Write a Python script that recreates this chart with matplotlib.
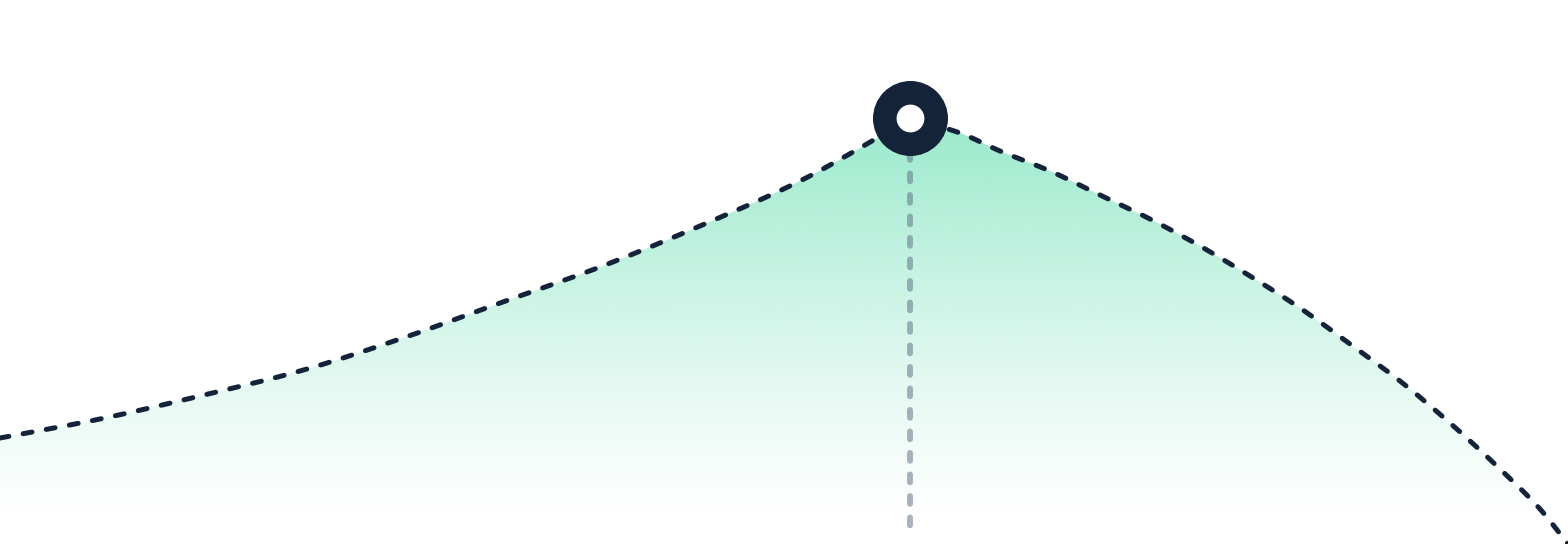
import numpy as np
import matplotlib
matplotlib.use('Agg')
import matplotlib.pyplot as plt
from matplotlib.colors import to_rgb

x_left = [0, 100, 200, 300, 400, 500, 600, 700, 800, 860, 910]
v_left = [106, 125, 148, 173, 205, 241, 277, 318, 363, 396, 426]
x_right = [910, 960, 1000, 1050, 1100, 1150, 1200, 1250, 1300, 1350, 1400, 1450, 1500, 1540, 1568]
v_right = [426, 411, 393, 373, 349, 325, 298, 268, 236, 200, 163, 121, 75, 35, 0]
peak_x, peak_v = 910, 426

W, H = 1568, 544
line_col = '#15233a'
fill_col = '#34d399'


def monotone(xs, ys, n=200):
    # monotone cubic (Fritsch-Carlson) for a smooth line through the points
    xs = np.asarray(xs, float)
    ys = np.asarray(ys, float)
    h = np.diff(xs)
    d = np.diff(ys) / h
    m = np.zeros_like(ys)
    m[0], m[-1] = d[0], d[-1]
    for i in range(1, len(xs) - 1):
        if d[i - 1] * d[i] <= 0:
            m[i] = 0
        else:
            w1 = 2 * h[i] + h[i - 1]
            w2 = h[i] + 2 * h[i - 1]
            m[i] = (w1 + w2) / (w1 / d[i - 1] + w2 / d[i])
    xx = np.linspace(xs[0], xs[-1], n)
    k = np.clip(np.searchsorted(xs, xx) - 1, 0, len(xs) - 2)
    t = (xx - xs[k]) / h[k]
    h00 = 2 * t**3 - 3 * t**2 + 1
    h10 = t**3 - 2 * t**2 + t
    h01 = -2 * t**3 + 3 * t**2
    h11 = t**3 - t**2
    yy = h00 * ys[k] + h10 * h[k] * m[k] + h01 * ys[k + 1] + h11 * h[k] * m[k + 1]
    return xx, yy


xl, yl = monotone(x_left, v_left)
xr, yr = monotone(x_right, v_right)
xs = np.concatenate([xl, xr[1:]])
ys = np.concatenate([yl, yr[1:]])

fig = plt.figure(figsize=(W / 100, H / 100), dpi=100)
ax = fig.add_axes([0, 0, 1, 1])
ax.set_xlim(0, W)
ax.set_ylim(0, H)
ax.axis('off')

# gradient fill under the curve
poly = ax.fill_between(xs, ys, 0, color='none')
g = np.zeros((256, 1, 4))
g[:, 0, :3] = to_rgb(fill_col)
vals = np.linspace(H, 0, 256)
a = np.clip((vals - 24) / (peak_v - 24), 0, 1)
g[:, 0, 3] = 0.5 * a ** 1.2
img = ax.imshow(g, extent=[0, W, 0, H], aspect='auto', zorder=1, interpolation='bilinear')
img.set_clip_path(poly.get_paths()[0], transform=ax.transData)

# vertical guide
ax.plot([peak_x, peak_x], [peak_v - 34, 9], color='#64748b', alpha=0.55, lw=4.3,
        dashes=(1.3, 2.3), dash_capstyle='round', zorder=2)

# curve
ax.plot(xs, ys, color=line_col, lw=3.6, dashes=(1.8, 2.9), dash_capstyle='round', zorder=3)

# peak marker
ax.plot([peak_x], [peak_v], 'o', ms=54, color=line_col, mew=0, zorder=4)
ax.plot([peak_x], [peak_v], 'o', ms=20, color='white', mew=0, zorder=5)

fig.savefig('out.png', dpi=100)
